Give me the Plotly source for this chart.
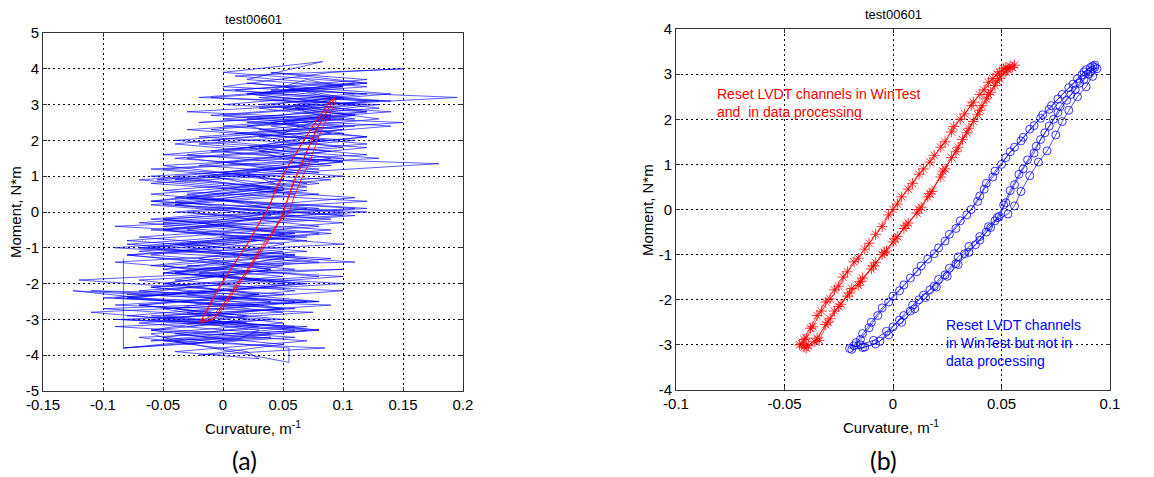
import plotly.graph_objects as go

# ---------------- data ----------------
# Panel (a): noisy blue record (curvature, moment)
noise_x = [
    -0.083, -0.083, 0.04, -0.06, 0.07, -0.09, 0.02, -0.05, 0.08, -0.11, 0.03, -0.07, 0.1, -0.02, 0.06, -0.08, 0.09, -0.05, 0.11, -0.04, 0.05, -0.05, 0.12, -0.01, 0.1, 0.0, 0.13, 0.02, 0.11,
    0.0, 0.14, 0.03, 0.12, -0.02, 0.09, 0.05, -0.04, 0.1, -0.06, 0.08, -0.03, 0.12, -0.07, 0.06, -0.09, 0.07, -0.05, 0.1, -0.1, 0.03, -0.08, 0.06, -0.04, 0.05, -0.02, 0.085,
    -0.05, 0.06, -0.085, 0.05, -0.125, 0.04, -0.06, 0.08, -0.03, 0.11, -0.06, 0.07, -0.09, 0.1, -0.04, 0.08, -0.055, 0.06, 0.0, 0.12, -0.02, 0.1, 0.02, 0.14, 0.04, 0.12, 0.0, 0.09, 0.15,
    0.01, 0.12, -0.01, 0.13, 0.02, 0.11, -0.04, 0.09, -0.02, 0.1, -0.05, 0.12, -0.03, 0.08, -0.08, 0.05, -0.06, 0.1, -0.07, 0.06, -0.1, 0.04, -0.06, 0.07, -0.04, 0.03,
    0.02, -0.07, 0.08, -0.05, 0.09, -0.08, 0.07, -0.04, 0.05, -0.07, 0.08, -0.05, 0.12, -0.06, 0.04, -0.06, 0.09, -0.03, 0.11, 0.01, 0.15, 0.0, 0.12, -0.02, 0.1, 0.02, 0.083,
    0.0, 0.12, 0.05, 0.195, 0.03, 0.11, -0.03, 0.09, -0.05, 0.18, -0.04, 0.07, -0.06, 0.09, -0.05, 0.1, -0.08, 0.06, -0.12, 0.05, -0.09, 0.075, -0.07, 0.04, -0.083,
    0.06, -0.09, 0.05, -0.07, 0.1, -0.05, 0.04, -0.08, 0.07, -0.06, 0.11, -0.05, 0.06, -0.07, 0.08, -0.04, 0.12, -0.01, 0.1, -0.03, 0.13, 0.01, 0.12, 0.04,
    0.12, 0.02, 0.11, -0.01, 0.14, 0.03, 0.1, -0.03, 0.08, -0.06, 0.11, -0.04, 0.1, -0.07, 0.07, -0.09, 0.05, -0.06, 0.08, -0.11, 0.03, -0.05, 0.055, 0.055,
    -0.04, 0.08, -0.06, 0.06, -0.09, 0.05, -0.04, 0.08, -0.07, 0.06, -0.05, 0.1, -0.06, 0.05, -0.04, 0.1, -0.01, 0.12, 0.0, 0.11, 0.03, 0.14, 0.02,
    0.11, 0.0, 0.12, 0.04, 0.1, -0.02, 0.13, -0.05, 0.09, -0.06, 0.08, -0.05, 0.06, -0.07, 0.09, -0.05, 0.07, -0.08, 0.05, -0.06, 0.07, -0.03,
    -0.06, 0.05, -0.03, 0.07, -0.08, 0.03, -0.05, 0.06, -0.03, 0.09, -0.06, 0.04, -0.03, 0.07, 0.0, 0.09, 0.03, 0.12, 0.04, 0.09, 0.06, 0.12, 0.03, 0.1, 0.07,
    0.04, 0.1, 0.06, 0.13, 0.03, 0.08, 0.0, 0.1, -0.02, 0.07, -0.04, 0.06, -0.05, 0.03, -0.06, 0.05, -0.04, 0.06, -0.07, 0.02, -0.06, 0.01,
    0.03, -0.05, 0.05, -0.03, 0.06, -0.05, 0.03, -0.04, 0.05, -0.02, 0.07, -0.03, 0.05, 0.02, 0.08, 0.02, 0.09, 0.05, 0.11, 0.06, 0.09, 0.05,
    0.1, 0.05, 0.09, 0.02, 0.08, 0.03, 0.07, -0.01, 0.05, -0.04, 0.04, -0.03, 0.05, -0.02, 0.04, -0.05, 0.03, -0.04, 0.02, -0.03,
]
noise_y = [
    -1.3, -3.8, -3.5, -3.6, -3.2, -3.0, -3.1, -2.7, -2.5, -2.2, -2.3, -1.9, -1.6, -1.7, -1.2, -0.9, -0.5, -0.2, 0.1, 0.4, 0.9, 1.3, 1.6, 2.0, 2.3, 2.6, 2.9, 3.3, 3.6,
    3.4, 3.1, 3.2, 2.8, 2.5, 2.7, 2.2, 1.9, 1.5, 1.2, 0.8, 0.4, 0.1, -0.3, -0.6, -1.0, -1.3, -1.7, -2.0, -2.4, -2.6, -2.9, -3.2, -3.4, -3.7, -4.0, -3.8,
    -3.6, -3.3, -3.0, -2.8, -2.2, -2.5, -2.1, -1.8, -1.5, -1.4, -1.0, -0.7, -0.4, -0.1, 0.2, 0.5, 0.9, 1.1, 1.4, 1.8, 2.1, 2.4, 2.5, 2.8, 3.0, 3.3, 3.5, 3.9, 4.0,
    3.8, 3.5, 3.2, 3.0, 2.6, 2.4, 2.0, 1.7, 1.3, 1.0, 0.6, 0.3, 0.0, -0.4, -0.8, -1.1, -1.5, -1.8, -2.2, -2.5, -2.7, -3.0, -3.3, -3.6, -3.9, -4.1,
    -3.9, -3.5, -3.3, -2.9, -2.6, -2.4, -2.0, -1.7, -1.3, -1.0, -0.6, -0.3, 0.0, 0.3, 0.7, 1.0, 1.3, 1.6, 2.0, 2.2, 2.5, 2.7, 3.0, 3.2, 3.5, 3.7, 4.2,
    3.9, 3.6, 3.4, 3.2, 2.9, 2.6, 2.3, 2.0, 1.6, 1.35, 0.9, 0.6, 0.2, -0.2, -0.5, -0.9, -1.2, -1.6, -1.9, -2.3, -2.6, -2.8, -3.1, -3.4, -3.8,
    -3.5, -3.2, -3.0, -2.6, -2.2, -2.0, -1.6, -1.2, -0.8, -0.5, -0.1, 0.2, 0.5, 0.9, 1.2, 1.5, 1.9, 2.3, 2.6, 2.8, 3.1, 3.4, 3.7, 3.9,
    3.6, 3.3, 3.0, 2.7, 2.4, 2.1, 1.8, 1.5, 1.1, 0.8, 0.4, 0.0, -0.3, -0.7, -1.1, -1.4, -1.8, -2.1, -2.5, -2.8, -3.2, -3.5, -3.8, -4.2,
    -3.6, -3.3, -2.9, -2.7, -2.4, -2.0, -1.7, -1.4, -1.1, -0.7, -0.4, 0.0, 0.3, 0.6, 1.0, 1.4, 1.7, 2.1, 2.4, 2.7, 3.0, 3.3, 3.6,
    3.3, 3.0, 2.8, 2.5, 2.2, 1.9, 1.5, 1.2, 0.9, 0.5, 0.1, -0.2, -0.6, -1.0, -1.3, -1.7, -2.0, -2.4, -2.7, -3.0, -3.3, -3.7,
    -3.4, -3.1, -2.8, -2.5, -2.3, -1.9, -1.5, -1.2, -0.9, -0.6, -0.2, 0.1, 0.5, 0.8, 1.1, 1.5, 1.8, 2.1, 2.4, 2.6, 2.9, 3.1, 3.3, 3.5, 3.7,
    3.4, 3.2, 2.9, 2.6, 2.3, 2.1, 1.7, 1.4, 1.0, 0.7, 0.3, -0.1, -0.5, -0.8, -1.2, -1.5, -1.9, -2.2, -2.6, -2.9, -3.3, -3.6,
    -3.3, -3.0, -2.7, -2.3, -2.0, -1.6, -1.3, -0.9, -0.6, -0.3, 0.1, 0.4, 0.7, 1.1, 1.4, 1.8, 2.2, 2.5, 2.7, 3.0, 3.2, 3.5,
    3.2, 2.9, 2.7, 2.4, 2.0, 1.7, 1.3, 1.0, 0.6, 0.2, -0.1, -0.5, -0.9, -1.3, -1.6, -2.0, -2.3, -2.7, -3.0, -3.2,
]

# Panel (b) red: reset in WinTest and in data processing
red_x = [
    -0.041, -0.036, -0.031, -0.027, -0.021, -0.016, -0.010, -0.005, 0.000, 0.005, 0.011, 0.016, 0.022, 0.027, 0.032, 0.037, 0.041, 0.045, 0.049, 0.053, 0.055,
    0.051, 0.048, 0.044, 0.040, 0.036, 0.031, 0.027, 0.022, 0.017, 0.012, 0.007, 0.002, -0.002, -0.008, -0.013, -0.018, -0.023, -0.027, -0.031, -0.035, -0.038, -0.041, -0.043,
    -0.040, -0.034, -0.030, -0.025, -0.019, -0.014, -0.008, -0.003, 0.002, 0.007, 0.013, 0.018, 0.023, 0.029, 0.034, 0.039, 0.043, 0.047, 0.050, 0.054,
    0.052, 0.049, 0.046, 0.042, 0.037, 0.033, 0.028, 0.024, 0.019, 0.014, 0.009, 0.004, 0.000, -0.005, -0.011, -0.016, -0.021, -0.025, -0.029, -0.033, -0.037, -0.040, -0.042,
    -0.039, -0.035, -0.029, -0.024, -0.020, -0.015, -0.009, -0.004, 0.001, 0.006, 0.012, 0.017, 0.024, 0.030, 0.035, 0.040, 0.044, 0.048, 0.052, 0.056,
]
red_y = [
    -3.05, -2.93, -2.55, -2.25, -1.92, -1.68, -1.32, -1.0, -0.72, -0.42, -0.08, 0.28, 0.72, 1.15, 1.55, 1.95, 2.3, 2.6, 2.9, 3.1, 3.15,
    3.12, 3.0, 2.82, 2.55, 2.3, 2.0, 1.72, 1.38, 1.05, 0.78, 0.45, 0.12, -0.12, -0.55, -0.88, -1.16, -1.5, -1.78, -2.05, -2.35, -2.63, -2.88, -3.0,
    -3.07, -2.9, -2.5, -2.15, -1.75, -1.52, -1.18, -0.92, -0.6, -0.3, 0.05, 0.4, 0.85, 1.28, 1.7, 2.1, 2.45, 2.75, 2.98, 3.18,
    3.15, 3.05, 2.9, 2.65, 2.38, 2.12, 1.84, 1.5, 1.2, 0.9, 0.58, 0.28, 0.0, -0.38, -0.75, -1.08, -1.38, -1.7, -1.98, -2.25, -2.6, -2.85, -2.98,
    -3.02, -2.85, -2.42, -2.1, -1.85, -1.6, -1.25, -0.95, -0.65, -0.35, 0.0, 0.35, 0.9, 1.38, 1.8, 2.2, 2.55, 2.85, 3.05, 3.2,
]

# Panel (b) blue: reset in WinTest but not in data processing (also red curve of panel a)
blue_x = [
    -0.019, -0.013, -0.006, 0.000, 0.005, 0.009, 0.014, 0.019, 0.024, 0.029, 0.033, 0.038, 0.043, 0.047, 0.053, 0.056, 0.059, 0.063, 0.067, 0.071, 0.075, 0.078, 0.081, 0.085, 0.089, 0.092, 0.094,
    0.092, 0.089, 0.087, 0.083, 0.078, 0.073, 0.069, 0.065, 0.060, 0.056, 0.052, 0.047, 0.043, 0.040, 0.036, 0.031, 0.026, 0.021, 0.016, 0.011, 0.005, 0.000, -0.005, -0.010, -0.014, -0.017, -0.020,
    -0.015, -0.009, -0.003, 0.003, 0.008, 0.012, 0.017, 0.021, 0.026, 0.030, 0.035, 0.040, 0.044, 0.048, 0.051, 0.054, 0.058, 0.062, 0.066, 0.070, 0.074, 0.077, 0.082, 0.086, 0.090, 0.093,
    0.091, 0.088, 0.085, 0.081, 0.076, 0.072, 0.068, 0.063, 0.059, 0.054, 0.050, 0.046, 0.042, 0.039, 0.034, 0.029, 0.024, 0.019, 0.013, 0.008, 0.003, -0.002, -0.007, -0.011, -0.015, -0.018,
    -0.014, -0.008, -0.002, 0.004, 0.010, 0.015, 0.020, 0.025, 0.030, 0.035, 0.040, 0.045, 0.049, 0.052, 0.056, 0.060, 0.065, 0.068, 0.072, 0.076, 0.080, 0.084, 0.088, 0.091, 0.093,
]
blue_y = [
    -3.1, -3.05, -2.92, -2.6, -2.35, -2.12, -1.9, -1.7, -1.45, -1.2, -0.98, -0.78, -0.5, -0.25, -0.1, 0.08, 0.4, 0.75, 1.05, 1.3, 1.65, 1.95, 2.2, 2.5, 2.72, 2.95, 3.12,
    3.18, 3.1, 2.98, 2.78, 2.55, 2.3, 2.1, 1.86, 1.6, 1.38, 1.15, 0.85, 0.58, 0.3, 0.0, -0.25, -0.55, -0.85, -1.1, -1.38, -1.67, -1.92, -2.18, -2.5, -2.75, -2.95, -3.08,
    -3.0, -2.9, -2.7, -2.45, -2.25, -2.0, -1.78, -1.55, -1.3, -1.05, -0.82, -0.6, -0.38, -0.18, 0.1, 0.42, 0.78, 1.1, 1.4, 1.7, 2.0, 2.28, 2.55, 2.8, 3.0, 3.2,
    3.15, 3.05, 2.9, 2.7, 2.45, 2.22, 2.02, 1.78, 1.52, 1.28, 1.0, 0.72, 0.45, 0.18, -0.12, -0.42, -0.7, -0.98, -1.25, -1.52, -1.8, -2.05, -2.35, -2.62, -2.88, -3.02,
    -3.06, -2.98, -2.78, -2.5, -2.2, -1.95, -1.72, -1.48, -1.22, -0.95, -0.68, -0.4, -0.15, 0.15, 0.55, 0.9, 1.25, 1.55, 1.85, 2.15, 2.42, 2.65, 2.88, 3.05, 3.15,
]

# ticks
xa_ticks = [-0.15, -0.1, -0.05, 0, 0.05, 0.1, 0.15, 0.2]
xa_text = ["-0.15", "-0.1", "-0.05", "0", "0.05", "0.1", "0.15", "0.2"]
ya_ticks = [-5, -4, -3, -2, -1, 0, 1, 2, 3, 4, 5]
ya_text = ["-5", "-4", "-3", "-2", "-1", "0", "1", "2", "3", "4", "5"]
xb_ticks = [-0.1, -0.05, 0, 0.05, 0.1]
xb_text = ["-0.1", "-0.05", "0", "0.05", "0.1"]
yb_ticks = [-4, -3, -2, -1, 0, 1, 2, 3, 4]
yb_text = ["-4", "-3", "-2", "-1", "0", "1", "2", "3", "4"]

title_text = "test00601"
xlab = "Curvature, m<sup>-1</sup>"
ylab = "Moment, N*m"
note_red = "Reset LVDT channels in WinTest<br>and \u00a0in data processing"
note_blue = "Reset LVDT channels<br>in WinTest but not in<br>data processing"

# ---------------- figure ----------------
W, H = 1154, 477
FONT = "Liberation Sans, Arial, sans-serif"

fig = go.Figure()

fig.add_trace(go.Scatter(x=noise_x, y=noise_y, mode="lines",
                         line=dict(color="rgba(0,0,255,0.8)", width=0.8),
                         xaxis="x", yaxis="y", showlegend=False))
fig.add_trace(go.Scatter(x=blue_x, y=blue_y, mode="lines",
                         line=dict(color="#ff0000", width=0.8),
                         xaxis="x", yaxis="y", showlegend=False))

fig.add_trace(go.Scatter(x=red_x, y=red_y, mode="lines+markers",
                         line=dict(color="#ff0000", width=0.7),
                         marker=dict(symbol="asterisk-open", size=9,
                                     line=dict(color="#ff0000", width=0.8)),
                         xaxis="x2", yaxis="y2", showlegend=False))
fig.add_trace(go.Scatter(x=blue_x, y=blue_y, mode="lines+markers",
                         line=dict(color="#0000ff", width=0.7),
                         marker=dict(symbol="circle-open", size=8,
                                     line=dict(color="#0000ff", width=0.8)),
                         xaxis="x2", yaxis="y2", showlegend=False))

def px_x(p):
    return p / W

def px_y(p):
    return 1 - p / H

axis_common = dict(
    showline=True, linecolor="#333333", linewidth=1, mirror="ticks",
    ticks="inside", ticklen=4, tickcolor="#333333",
    showgrid=True, gridcolor="#000000", gridwidth=1, griddash="2px,3px",
    zeroline=False, tickfont=dict(family=FONT, size=15, color="#000000"),
    fixedrange=True, automargin=False,
)

fig.update_layout(
    template="none",
    width=W, height=H,
    margin=dict(l=0, r=0, t=0, b=0),
    paper_bgcolor="white", plot_bgcolor="white",
    xaxis=dict(domain=[px_x(43), px_x(463)], range=[-0.15, 0.2],
               tickvals=xa_ticks, ticktext=xa_text, anchor="y", **axis_common),
    yaxis=dict(domain=[px_y(391), px_y(33)], range=[-5, 5],
               tickvals=ya_ticks, ticktext=ya_text, anchor="x", **axis_common),
    xaxis2=dict(domain=[px_x(676), px_x(1110)], range=[-0.1, 0.1],
                tickvals=xb_ticks, ticktext=xb_text, anchor="y2", **axis_common),
    yaxis2=dict(domain=[px_y(390), px_y(29)], range=[-4, 4],
                tickvals=yb_ticks, ticktext=yb_text, anchor="x2", **axis_common),
)

ann = []
def paper_text(text, x, y, size, angle=0, family=FONT, color="#000000"):
    ann.append(dict(text=text, x=px_x(x), y=px_y(y), xref="paper", yref="paper",
                    xanchor="center", yanchor="middle", showarrow=False,
                    textangle=angle, font=dict(family=family, size=size, color=color)))

paper_text(title_text, 253, 19, 13)
paper_text(title_text, 893, 15, 13)
paper_text(xlab, 253, 427, 15)
paper_text(xlab, 891, 426, 15)
paper_text(ylab, 15, 212, 15, angle=-90)
paper_text(ylab, 647, 210, 15, angle=-90)
paper_text("(a)", 244, 460, 25, family="Lato, Open Sans, sans-serif")
paper_text("(b)", 883, 460, 25, family="Lato, Open Sans, sans-serif")

ann.append(dict(text=note_red, x=-0.082, y=2.35, xref="x2", yref="y2",
                xanchor="left", yanchor="middle", align="left", showarrow=False,
                font=dict(family=FONT, size=14, color="#ff0000")))
ann.append(dict(text=note_blue, x=0.0235, y=-2.96, xref="x2", yref="y2",
                xanchor="left", yanchor="middle", align="left", showarrow=False,
                font=dict(family=FONT, size=14, color="#0000ff")))

fig.update_layout(annotations=ann)

fig.write_html("out.html")
